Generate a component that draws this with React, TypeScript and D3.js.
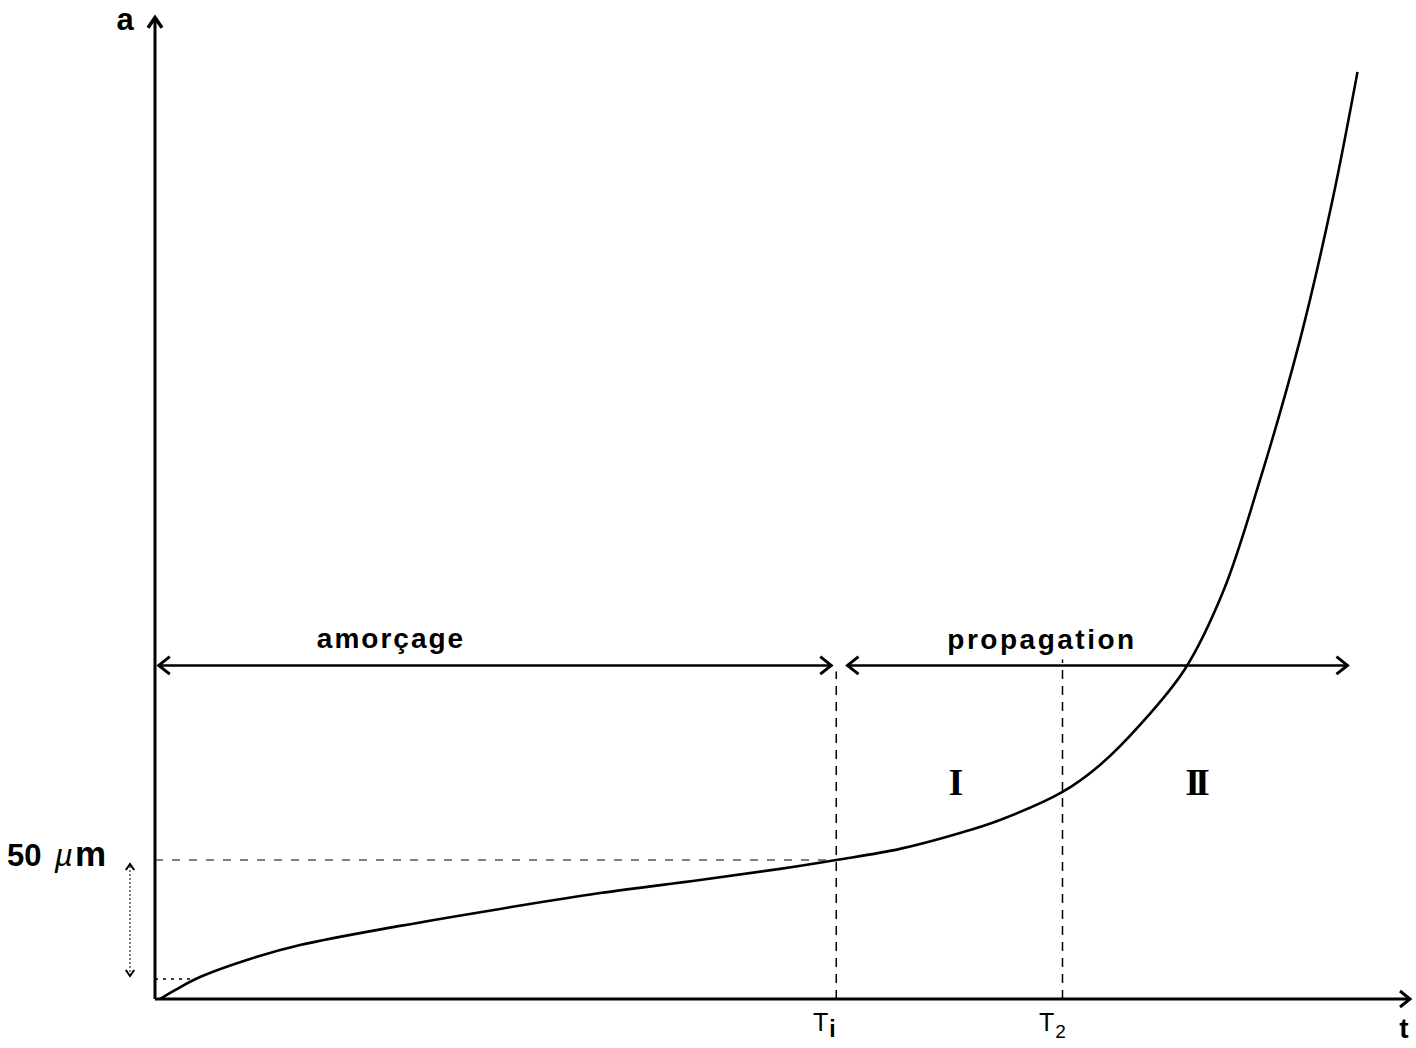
import React from "react";
import * as d3 from "d3";

// Crack length a (µm) versus time t (arbitrary units)
const T_VALUES = [0.04, 0.16, 0.36, 0.76, 1.16, 1.96, 2.76, 3.56, 4.36, 5.0, 5.45, 5.96, 6.44, 6.76, 7.26, 7.56, 7.88, 8.24, 8.55, 8.84, 9.16, 9.42, 9.62];
const A_VALUES = [0, 3.2, 7.9, 14.4, 19.4, 26.3, 32.4, 38.1, 42.8, 46.8, 50, 54, 59.7, 64.4, 74.5, 84.2, 98.6, 118.7, 147.1, 186.7, 237.1, 287.4, 333.5];

const T_I = 5.45;
const T_2 = 7.26;
const A_50 = 50;
const A_SMALL = 7.2;
const ARROW_A = 120;
const AMORCAGE_RANGE = [0.03, 5.41];
const PROPAGATION_RANGE = [5.54, 9.54];
const T_MAX = 10.04;
const A_MAX = 353;
const LABELS = { a: "a", t: "t", amorcage: "amorçage", propagation: "propagation", I: "I", II: "II" };

const W = 1416;
const H = 1048;

export default function App() {
  const x = d3.scaleLinear().domain([0, 10]).range([155, 1405]);
  const y = d3.scaleLinear().domain([0, 350]).range([999, 26]);
  const pts: [number, number][] = T_VALUES.map((t, i) => [t, A_VALUES[i]]);
  const line = d3
    .line<[number, number]>()
    .x((d) => x(d[0]))
    .y((d) => y(d[1]))
    .curve(d3.curveCatmullRom.alpha(0.5));

  const x0 = x(0);
  const y0 = y(0);
  const sans = "'Liberation Sans', Arial, sans-serif";
  const serif = "'Liberation Serif', 'DejaVu Serif', serif";
  const ay = y(ARROW_A);

  const head = (px: number, py: number, dir: "l" | "r" | "u" | "d", s = 11) => {
    if (dir === "r") return `M${px - s},${py - s * 0.8} L${px},${py} L${px - s},${py + s * 0.8}`;
    if (dir === "l") return `M${px + s},${py - s * 0.8} L${px},${py} L${px + s},${py + s * 0.8}`;
    if (dir === "u") return `M${px - s * 0.7},${py + s} L${px},${py} L${px + s * 0.7},${py + s}`;
    return `M${px - s * 0.7},${py - s} L${px},${py} L${px + s * 0.7},${py - s}`;
  };

  return (
    <svg width={W} height={H} style={{ position: "absolute", left: 0, top: 0, background: "#fff" }}>
      {/* axes */}
      <line x1={x0} y1={y0} x2={x0} y2={y(A_MAX)} stroke="#000" strokeWidth={3} />
      <path d={head(x0, y(A_MAX), "u", 10)} fill="none" stroke="#000" strokeWidth={3.5} />
      <line x1={x0} y1={y0} x2={x(T_MAX)} y2={y0} stroke="#000" strokeWidth={3} />
      <path d={head(x(T_MAX), y0, "r", 10)} fill="none" stroke="#000" strokeWidth={3} />
      <text x={125} y={30} fontFamily={sans} fontWeight="bold" fontSize={31} textAnchor="middle">{LABELS.a}</text>
      <text x={1404} y={1038} fontFamily={sans} fontWeight="bold" fontSize={28} textAnchor="middle">{LABELS.t}</text>

      {/* 50 µm reference */}
      <line x1={x0} y1={y(A_50)} x2={x(T_I)} y2={y(A_50)} stroke="#000" strokeWidth={1.2} strokeDasharray="8,9" />
      <line x1={x0} y1={y(A_SMALL)} x2={x(0.3)} y2={y(A_SMALL)} stroke="#000" strokeWidth={1.5} strokeDasharray="3,5" />
      <line x1={130} y1={y(A_50) + 6} x2={130} y2={y(A_SMALL) - 4} stroke="#000" strokeWidth={1} strokeDasharray="2,2" />
      <path d={head(130, y(A_50) + 4, "u", 6)} fill="none" stroke="#000" strokeWidth={2} />
      <path d={head(130, y(A_SMALL) - 3, "d", 6)} fill="none" stroke="#000" strokeWidth={2} />
      <text x={7} y={866} fontFamily={sans} fontSize={31} fontWeight="bold">
        50<tspan dx={13} fontStyle="italic" fontWeight="normal" fontSize={32}>µ</tspan><tspan dx={2} fontSize={35}>m</tspan>
      </text>

      {/* vertical dashed lines */}
      <line x1={x(T_I)} y1={y0} x2={x(T_I)} y2={y(ARROW_A) + 6} stroke="#000" strokeWidth={1.5} strokeDasharray="9,7" />
      <line x1={x(T_2)} y1={y0} x2={x(T_2)} y2={y(ARROW_A) - 6} stroke="#000" strokeWidth={1.5} strokeDasharray="9,7" />
      <text x={x(T_I) - 12} y={1031} fontFamily={sans} fontSize={25} textAnchor="middle">T<tspan dx={1} dy={6} fontSize={23} fontWeight="bold">i</tspan></text>
      <text x={x(T_2) - 10} y={1031} fontFamily={sans} fontSize={25} textAnchor="middle">T<tspan dx={1} dy={7} fontSize={19}>2</tspan></text>

      {/* phase arrows */}
      <line x1={x(AMORCAGE_RANGE[0])} y1={ay} x2={x(AMORCAGE_RANGE[1])} y2={ay} stroke="#000" strokeWidth={2.5} />
      <path d={head(x(AMORCAGE_RANGE[0]), ay, "l", 11)} fill="none" stroke="#000" strokeWidth={3} />
      <path d={head(x(AMORCAGE_RANGE[1]), ay, "r", 11)} fill="none" stroke="#000" strokeWidth={3} />
      <line x1={x(PROPAGATION_RANGE[0])} y1={ay} x2={x(PROPAGATION_RANGE[1])} y2={ay} stroke="#000" strokeWidth={2.5} />
      <path d={head(x(PROPAGATION_RANGE[0]), ay, "l", 11)} fill="none" stroke="#000" strokeWidth={3} />
      <path d={head(x(PROPAGATION_RANGE[1]), ay, "r", 11)} fill="none" stroke="#000" strokeWidth={3} />
      <text x={391} y={648} fontFamily={sans} fontWeight="bold" fontSize={28} textAnchor="middle" letterSpacing={2}>{LABELS.amorcage}</text>
      <text x={1042} y={649} fontFamily={sans} fontWeight="bold" fontSize={28} textAnchor="middle" letterSpacing={2.5}>{LABELS.propagation}</text>

      {/* regions */}
      <text x={956} y={795} fontFamily={serif} fontWeight="bold" fontSize={38} textAnchor="middle">{LABELS.I}</text>
      <text x={1195} y={795} fontFamily={serif} fontWeight="bold" fontSize={38} textAnchor="middle" letterSpacing={-5}>{LABELS.II}</text>

      {/* curve */}
      <path d={line(pts) || ""} fill="none" stroke="#000" strokeWidth={2.6} />
    </svg>
  );
}
